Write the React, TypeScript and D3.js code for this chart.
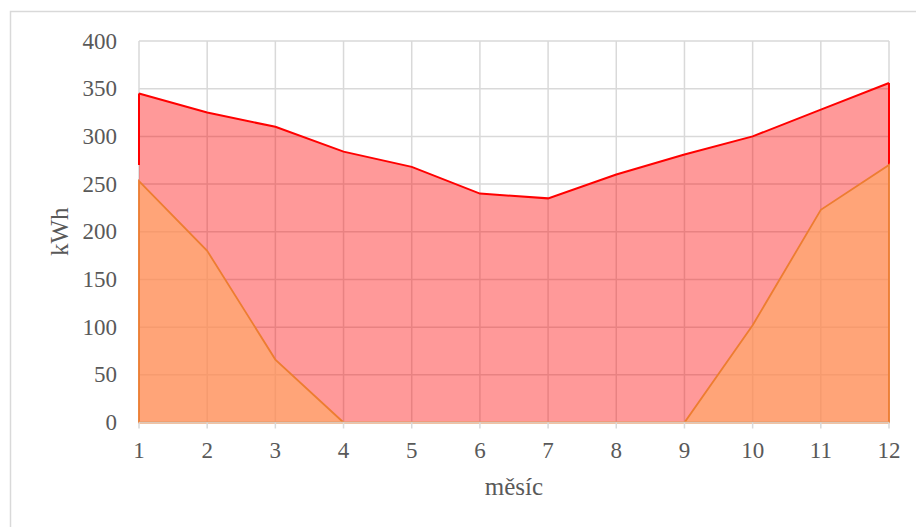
import React from "react";
import * as d3 from "d3";

const months = [1, 2, 3, 4, 5, 6, 7, 8, 9, 10, 11, 12];
const consumption = [345, 325, 310, 284, 268, 240, 235, 260, 281, 300, 328, 356];
const deficit = [253, 180, 66, 0, 0, 0, 0, 0, 0, 102, 223, 270];
const yTicks = [0, 50, 100, 150, 200, 250, 300, 350, 400];
const xLabel = "měsíc";
const yLabel = "kWh";

const W = 916;
const H = 527;
const M = { left: 139, right: 27, top: 41, bottom: 104.5 };

export default function App() {
  const x = d3.scaleLinear().domain([1, 12]).range([M.left, W - M.right]);
  const y = d3.scaleLinear().domain([0, 400]).range([H - M.bottom, M.top]);
  const font = "'Liberation Serif', 'DejaVu Serif', serif";

  const area = d3
    .area<number>()
    .x((_, i) => x(months[i]))
    .y0(y(0))
    .y1((d) => y(d));
  const line = d3
    .line<number>()
    .x((_, i) => x(months[i]))
    .y((d) => y(d));

  const edgeBottom = y(deficit[deficit.length - 1]);

  return (
    <svg width={W} height={H} style={{ position: "absolute", left: 0, top: 0 }}>
      <rect x={0} y={0} width={W} height={H} fill="#fff" />
      <rect x={10.5} y={11.5} width={W} height={H} fill="none" stroke="#D9D9D9" strokeWidth={1.5} />
      {yTicks.slice(1).map((t) => (
        <line key={"gy" + t} x1={x(1)} x2={x(12)} y1={y(t)} y2={y(t)} stroke="#D9D9D9" strokeWidth={1.5} />
      ))}
      {months.map((m) => (
        <line key={"gx" + m} x1={x(m)} x2={x(m)} y1={y(0)} y2={y(400)} stroke="#D9D9D9" strokeWidth={1.5} />
      ))}
      <path d={area(consumption) || ""} fill="#FF0000" fillOpacity={0.4} />
      <path d={area(deficit) || ""} fill="#FFAB62" fillOpacity={0.6} />
      <path d={line(consumption) || ""} fill="none" stroke="#FF0000" strokeWidth={2} />
      <line x1={x(1)} x2={x(1)} y1={y(consumption[0])} y2={edgeBottom} stroke="#FF0000" strokeWidth={2} />
      <line x1={x(12)} x2={x(12)} y1={y(consumption[11])} y2={edgeBottom} stroke="#FF0000" strokeWidth={2} />
      <path d={area(deficit) || ""} fill="none" stroke="#ED7D31" strokeWidth={1.8} />
      <line x1={x(1)} x2={x(12)} y1={y(0)} y2={y(0)} stroke="#D9D9D9" strokeWidth={1.5} strokeOpacity={0.8} />
      {months.map((m) => (
        <g key={"xt" + m}>
          <line x1={x(m)} x2={x(m)} y1={y(0)} y2={y(0) + 6} stroke="#D9D9D9" strokeWidth={1.5} />
          <text x={x(m)} y={y(0) + 35} textAnchor="middle" fontFamily={font} fontSize={23} fill="#595959">
            {m}
          </text>
        </g>
      ))}
      {yTicks.map((t) => (
        <text key={"yt" + t} x={117} y={y(t) + 7.5} textAnchor="end" fontFamily={font} fontSize={23} fill="#595959">
          {t}
        </text>
      ))}
      <text x={(x(1) + x(12)) / 2} y={495} textAnchor="middle" fontFamily={font} fontSize={25} fill="#595959">
        {xLabel}
      </text>
      <text
        transform={`translate(${68},${(y(0) + y(400)) / 2}) rotate(-90)`}
        textAnchor="middle"
        fontFamily={font}
        fontSize={25}
        fill="#595959"
      >
        {yLabel}
      </text>
    </svg>
  );
}
